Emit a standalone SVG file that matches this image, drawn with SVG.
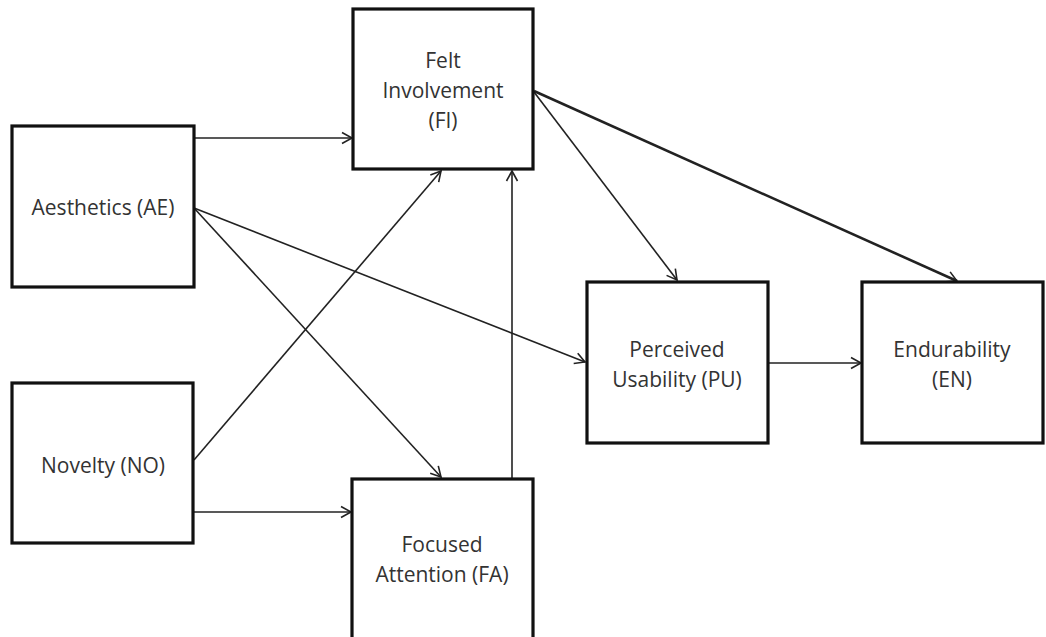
<svg xmlns="http://www.w3.org/2000/svg" width="1046" height="637" viewBox="0 0 1046 637">
<defs>
<marker id="arr" markerUnits="userSpaceOnUse" markerWidth="14" markerHeight="14" viewBox="-12 -7 14 14" refX="0" refY="0" orient="auto">
<path d="M-10,-5.5 L0,0 L-10,5.5" fill="none" stroke="#222" stroke-width="1.6"/>
</marker>
</defs>
<style>
.box{fill:#fff;stroke:#111;stroke-width:3.2}
.lbl{font-family:"Open Sans","Liberation Sans",sans-serif;font-size:21px;fill:#333;text-anchor:middle}
.c{fill:none;stroke:#222;stroke-width:1.6;marker-end:url(#arr)}
.thick{stroke-width:2.6}
</style>
<rect width="1046" height="637" fill="#fff"/>
<g id="connectors">
<line class="c" x1="194" y1="138" x2="352" y2="138"/>
<line class="c" x1="194" y1="208" x2="585" y2="362"/>
<line class="c" x1="194" y1="208" x2="441" y2="477"/>
<line class="c" x1="194" y1="460" x2="441" y2="171"/>
<line class="c" x1="194" y1="512" x2="351" y2="512"/>
<line class="c" x1="512" y1="478" x2="512" y2="171"/>
<line class="c" x1="534" y1="92" x2="677" y2="280"/>
<line class="c thick" x1="534" y1="91" x2="957" y2="281"/>
<line class="c" x1="768" y1="363" x2="861" y2="363"/>
</g>
<g id="AE"><rect class="box" x="12" y="126" width="182" height="161"/><text class="lbl" x="103" y="215">Aesthetics (AE)</text></g>
<g id="NO"><rect class="box" x="12" y="383" width="181" height="160"/><text class="lbl" x="103" y="473">Novelty (NO)</text></g>
<g id="FI"><rect class="box" x="353" y="9" width="180" height="160"/><text class="lbl" x="443" y="68">Felt</text><text class="lbl" x="443" y="98">Involvement</text><text class="lbl" x="443" y="128">(FI)</text></g>
<g id="FA"><rect class="box" x="352" y="479" width="181" height="170"/><text class="lbl" x="442" y="552">Focused</text><text class="lbl" x="442" y="582">Attention (FA)</text></g>
<g id="PU"><rect class="box" x="587" y="282" width="181" height="161"/><text class="lbl" x="677" y="357">Perceived</text><text class="lbl" x="677" y="387">Usability (PU)</text></g>
<g id="EN"><rect class="box" x="862" y="282" width="181" height="161"/><text class="lbl" x="952" y="357">Endurability</text><text class="lbl" x="952" y="387">(EN)</text></g>
</svg>
